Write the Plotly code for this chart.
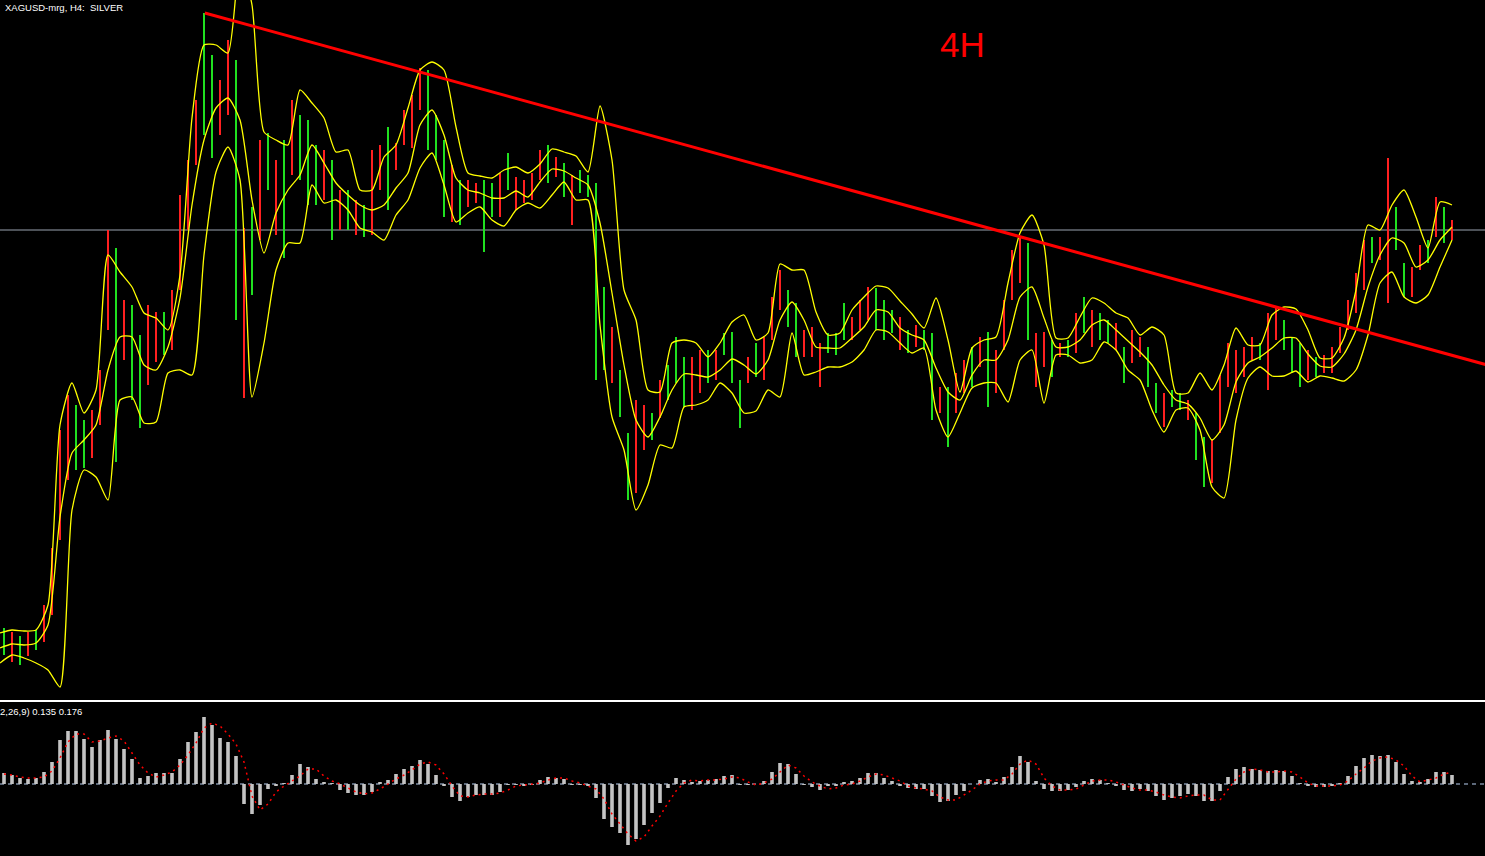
import plotly.graph_objects as go

# ---------------- data ----------------
# price bars (one sampled bar per slot): high / low and colour side ('r' red, 'g' green)
bar_high = [
    20.72, 20.68, 20.64, 20.68, 20.70, 20.95, 21.52, 22.70, 23.05, 22.95,
    22.80, 22.90, 23.30, 24.70, 24.52, 24.00, 23.95, 23.65, 23.95, 23.88,
    23.88, 24.10, 25.05, 25.40, 26.00, 26.87, 26.45, 26.20, 26.60, 26.40,
    24.72, 24.93, 25.60, 25.67, 25.40, 25.60, 26.00, 25.85, 25.80, 25.55,
    25.50, 25.40, 25.10, 25.10, 25.00, 24.95, 25.50, 25.55, 25.73, 25.57,
    25.90, 26.05, 26.32, 26.30, 25.85, 25.60, 25.35, 25.20, 25.20, 25.17,
    25.20, 25.17, 25.27, 25.47, 25.23, 25.20, 25.27, 25.50, 25.55, 25.43,
    25.37, 25.25, 25.30, 25.25, 25.17, 24.13, 23.73, 23.30, 22.67, 23.00,
    22.95, 22.87, 23.20, 23.35, 23.63, 23.43, 23.43, 23.50, 23.50, 23.50,
    23.67, 23.68, 23.20, 23.43, 23.57, 23.63, 24.03, 24.30, 24.10, 23.97,
    23.70, 23.73, 23.57, 23.67, 23.67, 23.97, 23.83, 24.00, 24.13, 24.12,
    24.00, 23.90, 23.83, 23.70, 23.75, 23.70, 23.67, 23.13, 23.13, 23.27,
    23.40, 23.53, 23.63, 23.68, 23.50, 24.00, 24.50, 24.63, 24.57, 23.67,
    23.68, 23.60, 23.57, 23.60, 23.87, 24.03, 23.90, 23.87, 23.80, 23.77,
    23.53, 23.70, 23.63, 23.53, 23.17, 23.07, 23.10, 23.07, 23.00, 22.87,
    22.63, 22.60, 23.25, 23.57, 23.50, 23.53, 23.63, 23.57, 23.87, 23.93,
    23.80, 23.63, 23.57, 23.50, 23.43, 23.45, 23.53, 23.73, 24.00, 24.27,
    24.60, 24.63, 24.63, 25.42, 24.93, 24.37, 24.33, 24.55, 24.60, 25.03,
    24.93, 24.80,
]
bar_low = [
    20.45, 20.38, 20.35, 20.44, 20.50, 20.58, 20.85, 21.60, 22.20, 22.30,
    22.32, 22.42, 22.75, 23.70, 22.38, 23.40, 23.00, 22.72, 23.15, 23.38,
    23.45, 23.50, 24.10, 24.70, 25.35, 25.65, 25.42, 25.65, 25.85, 23.80,
    23.02, 24.05, 24.60, 25.10, 24.65, 24.42, 25.25, 25.20, 24.95, 24.95,
    25.00, 24.60, 24.70, 24.70, 24.65, 24.63, 24.65, 25.10, 24.90, 25.30,
    25.55, 25.52, 25.90, 25.50, 25.40, 24.83, 24.78, 24.75, 24.93, 24.97,
    24.48, 24.83, 24.83, 25.10, 24.90, 24.97, 25.00, 25.20, 25.17, 25.23,
    25.03, 24.75, 25.07, 25.03, 23.20, 23.30, 23.17, 22.83, 22.00, 22.07,
    22.50, 22.60, 22.82, 23.00, 23.17, 22.93, 22.90, 23.07, 23.17, 23.20,
    23.45, 23.17, 22.72, 23.17, 23.23, 23.20, 23.60, 23.90, 23.73, 23.43,
    23.43, 23.43, 23.13, 23.47, 23.45, 23.60, 23.60, 23.70, 23.80, 23.70,
    23.60, 23.67, 23.50, 23.47, 23.53, 23.50, 22.80, 22.87, 22.53, 22.87,
    23.07, 23.13, 23.33, 22.93, 23.07, 23.50, 24.00, 24.17, 23.60, 23.13,
    23.33, 23.23, 23.43, 23.43, 23.47, 23.67, 23.53, 23.60, 23.57, 23.50,
    23.17, 23.37, 23.43, 23.13, 22.87, 22.73, 22.93, 22.90, 22.80, 22.40,
    22.13, 22.17, 22.67, 23.13, 23.07, 23.23, 23.40, 23.40, 23.10, 23.60,
    23.50, 23.27, 23.13, 23.20, 23.23, 23.27, 23.27, 23.47, 23.70, 23.87,
    24.10, 24.37, 24.40, 23.97, 24.50, 24.03, 24.03, 24.30, 24.37, 24.63,
    24.57, 24.60,
]
bar_side = (
    "grgrgrrrrg" "grrrgrggrr" "grrrrggrrg" "rgrgrgrggg" "rgrgrgrrgr"
    "rrrgggrgrr" "ggrgrrrrgr" "grggggrggr" "rgrgggrrgr" "gggrgrrrgg"
    "rrrgggrrrg" "ggrgrggrgr" "rgrgrrrrgr" "rgrgrgrggr" "grrggrggrg"
    "grrrrrrgrr" "gggrgrrrrr" "rgrrggrrgr" "gr"
)

# bands (sampled every 1.5 bar slots)
upper_band = [
    20.67, 20.70, 20.69, 20.70, 20.95, 22.75, 23.17, 22.87, 23.10, 24.45,
    24.28, 24.13, 23.87, 23.82, 23.70, 24.25, 25.82, 26.55, 26.55, 26.47,
    27.40, 26.95, 25.68, 25.60, 25.55, 26.10, 25.97, 25.82, 25.48, 25.50,
    25.10, 25.10, 25.43, 25.55, 25.92, 26.30, 26.38, 26.30, 25.73, 25.27,
    25.24, 25.22, 25.30, 25.33, 25.27, 25.36, 25.51, 25.48, 25.44, 25.28,
    25.94, 25.40, 24.10, 23.80, 23.10, 23.08, 23.57, 23.60, 23.57, 23.43,
    23.57, 23.78, 23.85, 23.60, 23.67, 24.36, 24.30, 24.30, 23.88, 23.65,
    23.67, 23.90, 24.03, 24.14, 24.12, 23.99, 23.86, 23.72, 24.02, 23.60,
    23.08, 23.52, 23.60, 23.63, 24.17, 24.67, 24.85, 24.55, 23.62, 23.62,
    23.83, 24.02, 23.97, 23.87, 23.82, 23.65, 23.73, 23.65, 23.07, 23.07,
    23.27, 23.10, 23.35, 23.72, 23.55, 23.55, 23.85, 23.93, 23.91, 23.70,
    23.42, 23.42, 23.62, 24.10, 24.75, 24.70, 24.95, 25.10, 24.83, 24.52,
    24.98, 24.95,
]
middle_band = [
    20.52, 20.56, 20.55, 20.57, 20.75, 21.83, 22.47, 22.60, 22.75, 23.30,
    23.63, 23.63, 23.35, 23.30, 23.53, 24.02, 24.95, 25.60, 25.92, 26.02,
    25.80, 25.00, 24.47, 24.87, 25.10, 25.25, 25.55, 25.37, 25.17, 25.05,
    24.95, 24.90, 24.95, 25.12, 25.27, 25.75, 25.90, 25.65, 25.22, 25.10,
    25.07, 25.02, 25.02, 25.09, 25.03, 25.18, 25.31, 25.29, 25.22, 25.15,
    24.77, 24.07, 23.35, 22.80, 22.63, 22.83, 23.10, 23.26, 23.25, 23.23,
    23.30, 23.41, 23.35, 23.26, 23.40, 23.80, 23.98, 23.80, 23.53, 23.52,
    23.52, 23.62, 23.73, 23.90, 23.88, 23.72, 23.65, 23.60, 23.32, 23.08,
    23.00, 23.25, 23.40, 23.40, 23.60, 24.03, 24.13, 23.82, 23.53, 23.53,
    23.60, 23.75, 23.80, 23.70, 23.59, 23.48, 23.35, 23.15, 23.00, 22.96,
    22.82, 22.60, 22.75, 23.18, 23.37, 23.43, 23.52, 23.62, 23.62, 23.46,
    23.34, 23.33, 23.46, 23.70, 24.13, 24.45, 24.62, 24.57, 24.33, 24.40,
    24.60, 24.73,
]
lower_band = [
    20.37, 20.45, 20.42, 20.37, 20.30, 20.13, 21.90, 22.30, 22.23, 22.00,
    23.00, 23.03, 22.77, 22.78, 23.27, 23.30, 23.25, 24.45, 25.28, 25.53,
    25.20, 23.03, 23.57, 24.30, 24.57, 24.57, 25.15, 24.97, 25.00, 24.90,
    24.72, 24.68, 24.60, 24.85, 25.00, 25.32, 25.47, 25.15, 24.78, 24.87,
    24.93, 24.80, 24.74, 24.90, 24.97, 24.92, 25.05, 25.18, 25.00, 25.00,
    23.75, 22.83, 22.50, 21.90, 22.15, 22.55, 22.52, 22.93, 22.95, 23.00,
    23.17, 23.07, 22.87, 22.89, 23.10, 23.03, 23.67, 23.25, 23.28, 23.33,
    23.33, 23.38, 23.50, 23.70, 23.68, 23.57, 23.47, 23.52, 22.90, 22.63,
    22.87, 23.12, 23.17, 23.17, 22.98, 23.40, 23.50, 22.97, 23.45, 23.45,
    23.37, 23.40, 23.58, 23.50, 23.30, 23.20, 22.90, 22.68, 22.90, 22.92,
    22.70, 22.13, 22.02, 22.80, 23.22, 23.33, 23.24, 23.24, 23.29, 23.18,
    23.24, 23.22, 23.19, 23.30, 23.65, 24.17, 24.28, 24.03, 23.97, 24.05,
    24.33, 24.60,
]

# MACD (one value per bar slot)
macd_hist = [
    0.165, 0.135, 0.09, 0.075, 0.09, 0.18, 0.33, 0.66, 0.795, 0.795,
    0.675, 0.555, 0.66, 0.81, 0.675, 0.525, 0.375, 0.09, 0.12, 0.165,
    0.165, 0.165, 0.375, 0.63, 0.78, 1.005, 0.885, 0.69, 0.63, 0.42,
    -0.3, -0.45, -0.315, -0.075, -0.03, 0.015, 0.135, 0.3, 0.255, 0.075,
    0.03, 0.015, -0.09, -0.135, -0.165, -0.165, -0.12, 0.03, 0.06, 0.15,
    0.225, 0.27, 0.36, 0.3, 0.135, -0.03, -0.195, -0.255, -0.195, -0.165,
    -0.165, -0.165, -0.12, -0.015, -0.015, -0.03, -0.015, 0.06, 0.105, 0.09,
    0.075, -0.015, -0.015, -0.03, -0.21, -0.525, -0.645, -0.735, -0.915, -0.825,
    -0.615, -0.435, -0.285, -0.06, 0.09, 0.06, 0.03, 0.045, 0.06, 0.075,
    0.12, 0.135, -0.015, -0.015, 0.0, 0.045, 0.18, 0.315, 0.3, 0.15,
    -0.015, -0.045, -0.09, -0.03, -0.03, 0.03, 0.045, 0.09, 0.165, 0.165,
    0.09, 0.045, -0.03, -0.06, -0.075, -0.075, -0.18, -0.27, -0.255, -0.165,
    -0.105, 0.0, 0.06, 0.075, 0.03, 0.105, 0.255, 0.42, 0.33, 0.045,
    -0.075, -0.105, -0.105, -0.09, -0.045, 0.045, 0.075, 0.06, 0.015, -0.03,
    -0.09, -0.105, -0.075, -0.105, -0.18, -0.24, -0.21, -0.18, -0.15, -0.18,
    -0.255, -0.255, -0.105, 0.105, 0.225, 0.255, 0.225, 0.21, 0.195, 0.21,
    0.195, 0.12, 0.015, -0.03, -0.045, -0.045, -0.03, 0.015, 0.12, 0.27,
    0.39, 0.435, 0.42, 0.435, 0.33, 0.15, 0.045, 0.03, 0.075, 0.18,
    0.18, 0.135,
]
macd_signal = [
    0.15, 0.135, 0.105, 0.09, 0.09, 0.105, 0.195, 0.39, 0.63, 0.75,
    0.75, 0.63, 0.645, 0.69, 0.72, 0.645, 0.465, 0.285, 0.165, 0.105,
    0.135, 0.18, 0.285, 0.435, 0.615, 0.84, 0.915, 0.87, 0.75, 0.6,
    0.33, -0.18, -0.39, -0.3, -0.12, -0.03, 0.045, 0.12, 0.225, 0.225,
    0.12, 0.045, 0.0, -0.06, -0.12, -0.15, -0.135, -0.075, 0.0, 0.075,
    0.135, 0.21, 0.3, 0.33, 0.285, 0.15, -0.03, -0.18, -0.195, -0.165,
    -0.15, -0.15, -0.135, -0.09, -0.03, -0.015, 0.0, 0.015, 0.06, 0.09,
    0.09, 0.045, 0.015, -0.03, -0.075, -0.225, -0.45, -0.6, -0.75, -0.855,
    -0.795, -0.63, -0.48, -0.285, -0.105, 0.015, 0.06, 0.045, 0.06, 0.06,
    0.075, 0.105, 0.09, 0.03, -0.015, 0.015, 0.075, 0.18, 0.285, 0.24,
    0.12, 0.03, -0.03, -0.075, -0.06, -0.015, 0.0, 0.045, 0.105, 0.15,
    0.135, 0.09, 0.045, -0.03, -0.06, -0.075, -0.105, -0.195, -0.24, -0.24,
    -0.165, -0.09, 0.0, 0.045, 0.06, 0.06, 0.15, 0.3, 0.36, 0.3,
    0.09, -0.03, -0.09, -0.09, -0.075, -0.015, 0.045, 0.06, 0.06, 0.03,
    -0.015, -0.06, -0.09, -0.09, -0.12, -0.165, -0.195, -0.21, -0.18, -0.165,
    -0.165, -0.24, -0.24, -0.09, 0.075, 0.18, 0.225, 0.21, 0.18, 0.18,
    0.195, 0.18, 0.105, 0.015, -0.03, -0.03, -0.03, -0.015, 0.045, 0.15,
    0.24, 0.345, 0.39, 0.405, 0.36, 0.27, 0.12, 0.03, 0.06, 0.09,
    0.15, 0.176,
]

# trend line and level line
trend_x = [25.1, 185.2]
trend_y = [26.87, 23.355]
level_price = 24.70

title_text = "XAGUSD-mrg, H4:\u00a0 SILVER"
macd_params = "2,26,9)"
tf_label = "4H"

# ---------------- figure ----------------
n = len(bar_high)
bar_x = list(range(n))
band_x = [1.5 * k - 0.5 for k in range(len(upper_band))]

RED = "#ff2020"
GREEN = "#20e020"


def bar_segments(flag):
    xs, ys = [], []
    for i in range(n):
        if bar_side[i] == flag:
            xs += [bar_x[i], bar_x[i], None]
            ys += [bar_low[i], bar_high[i], None]
    return xs, ys


fig = go.Figure()

for flag, col in (("g", GREEN), ("r", RED)):
    xs, ys = bar_segments(flag)
    fig.add_trace(go.Scatter(x=xs, y=ys, mode="lines",
                             line=dict(color=col, width=2),
                             xaxis="x", yaxis="y", hoverinfo="skip"))

for band in (upper_band, middle_band, lower_band):
    fig.add_trace(go.Scatter(x=band_x, y=band, mode="lines",
                             line=dict(color="#ffff00", width=1.3,
                                       shape="spline", smoothing=0.6),
                             xaxis="x", yaxis="y", hoverinfo="skip"))

fig.add_trace(go.Scatter(x=trend_x, y=trend_y, mode="lines",
                         line=dict(color="#ff0000", width=3),
                         xaxis="x", yaxis="y", hoverinfo="skip"))

fig.add_trace(go.Bar(x=bar_x, y=macd_hist, width=0.45,
                     marker=dict(color="#c4c4c4", line=dict(width=0)),
                     xaxis="x2", yaxis="y2", hoverinfo="skip"))

fig.add_trace(go.Scatter(x=bar_x, y=macd_signal, mode="lines",
                         line=dict(color="#ff0000", width=1.5, dash="2px,4px"),
                         xaxis="x2", yaxis="y2", hoverinfo="skip"))

H = 856.0
main_bottom = 1 - 700 / H
macd_top = 1 - 702 / H
x_range = [-0.5, -0.5 + 1485 / 8.0]

fig.update_layout(
    width=1485, height=856,
    margin=dict(l=0, r=0, t=0, b=0),
    paper_bgcolor="#000000", plot_bgcolor="#000000",
    showlegend=False,
    xaxis=dict(domain=[0, 1], range=x_range, anchor="y",
               showline=True, linecolor="#ffffff", linewidth=1,
               showgrid=False, zeroline=False, showticklabels=False, ticks=""),
    yaxis=dict(domain=[main_bottom, 1], range=[20, 27], anchor="x",
               showgrid=False, zeroline=False, showticklabels=False,
               showline=False, ticks=""),
    xaxis2=dict(domain=[0, 1], range=x_range, anchor="y2", side="top",
                showline=True, linecolor="#ffffff", linewidth=1,
                showgrid=False, zeroline=False, showticklabels=False, ticks=""),
    yaxis2=dict(domain=[0, macd_top], range=[-1.08, 1.23], anchor="x2",
                showgrid=False, zeroline=False, showticklabels=False,
                showline=False, ticks=""),
    shapes=[
        dict(type="line", xref="paper", x0=0, x1=1, yref="y",
             y0=level_price, y1=level_price, layer="below",
             line=dict(color="#9aa3b0", width=1)),
        dict(type="line", xref="paper", x0=0, x1=1, yref="y2",
             y0=0, y1=0, layer="below",
             line=dict(color="#7b8ba1", width=1.5, dash="4px,4px")),
    ],
    annotations=[
        dict(text=title_text, xref="paper", yref="paper",
             x=0.002, y=1 - 7 / H, xanchor="left", yanchor="middle",
             showarrow=False,
             font=dict(family="Liberation Sans, Arial, sans-serif",
                       size=9.5, color="#ffffff")),
        dict(text=f"{macd_params} {macd_hist[-1]:.3f} {macd_signal[-1]:.3f}",
             xref="paper", yref="paper", x=0, xshift=-2,
             y=1 - 711.5 / H, xanchor="left", yanchor="middle",
             showarrow=False,
             font=dict(family="Liberation Sans, Arial, sans-serif",
                       size=9.5, color="#ffffff")),
        dict(text=tf_label, xref="paper", yref="paper",
             x=963 / 1485, y=1 - 44.5 / H, xanchor="center", yanchor="middle",
             showarrow=False,
             font=dict(family="Liberation Sans, Arial, sans-serif",
                       size=35, color="#ff0000")),
    ],
)

fig.write_html("out.html", config={"displayModeBar": False},
               post_script="document.body.style.margin='0';"
                           "document.body.style.overflow='hidden';")
